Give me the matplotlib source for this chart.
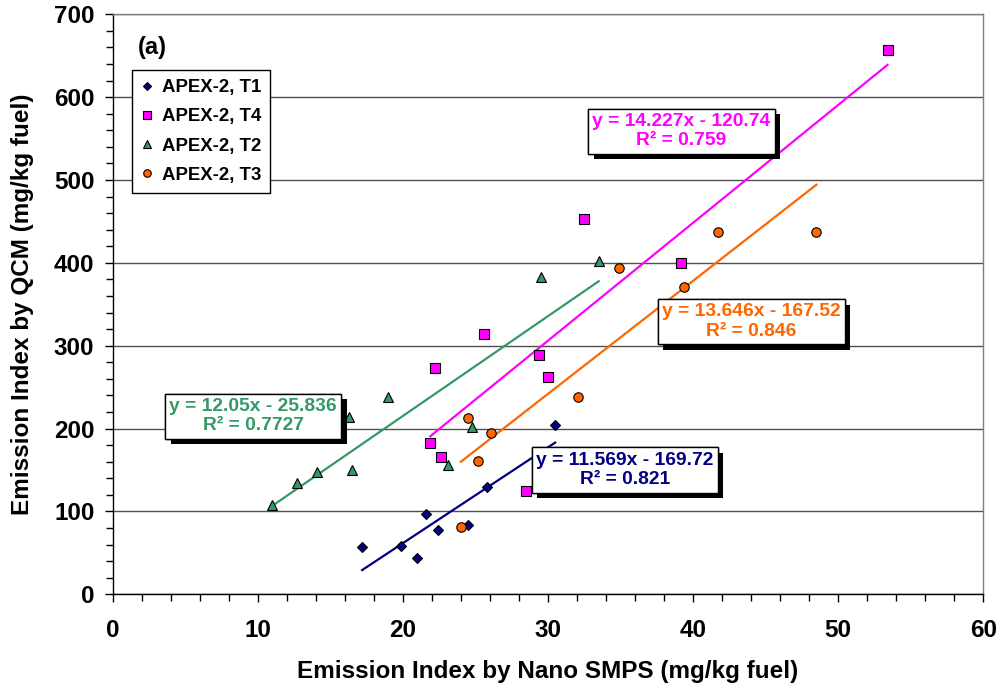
import matplotlib
matplotlib.use("Agg")
import matplotlib.pyplot as plt
import matplotlib.patheffects as pe
from matplotlib.ticker import MultipleLocator
import numpy as np

plt.rcParams['font.family'] = ['Liberation Sans', 'DejaVu Sans']
plt.rcParams['font.weight'] = 'bold'

# ---- data ----
t1_x = [17.2, 19.85, 21.0, 21.6, 22.4, 24.5, 25.8, 30.5]
t1_y = [57.4, 58.7, 43.4, 96.9, 78.0, 83.6, 129.5, 204.7]

t4_x = [21.9, 22.2, 25.6, 29.4, 30.0, 32.5, 39.2, 22.6, 28.5, 53.4]
t4_y = [182.2, 273.1, 314.1, 288.4, 261.9, 452.9, 400.2, 165.3, 124.7, 656.5]

t2_x = [10.96, 12.7, 14.1, 16.5, 16.3, 19.0, 24.8, 23.1, 29.5, 33.5]
t2_y = [107.8, 134.0, 148.0, 150.0, 214.3, 238.5, 202.3, 156.0, 382.6, 402.6]

t3_x = [24.0, 24.5, 26.1, 25.2, 32.1, 34.9, 39.4, 41.7, 48.5]
t3_y = [81.6, 213.1, 195.0, 161.2, 237.7, 393.8, 371.2, 436.9, 437.2]

series_labels = ["APEX-2, T1", "APEX-2, T4", "APEX-2, T2", "APEX-2, T3"]
slopes = [11.569, 14.227, 12.05, 13.646]
intercepts = [-169.72, -120.74, -25.836, -167.52]
r2_values = ["0.821", "0.759", "0.7727", "0.846"]
eq_texts = ["y = 11.569x - 169.72", "y = 14.227x - 120.74",
            "y = 12.05x - 25.836", "y = 13.646x - 167.52"]

x_ticks = [0, 10, 20, 30, 40, 50, 60]
y_ticks = [0, 100, 200, 300, 400, 500, 600, 700]

# ---- styles ----
colors = ['#000080', '#FF00FF', '#339966', '#FF6600']
markers = ['D', 's', '^', 'o']
msizes = [4.6, 7.2, 7.4, 6.8]
# label positions (data coords, centre of text box)
label_pos = [(35.3, 150), (39.2, 559), (9.7, 215), (44.0, 329)]

fig = plt.figure(figsize=(10, 6.89), dpi=100)
ax = fig.add_axes([0.1125, 0.1374, 0.8708, 0.8418])

ax.set_xlim(0, 60)
ax.set_ylim(0, 700)
ax.set_xticks(x_ticks)
ax.set_yticks(y_ticks)
ax.xaxis.set_minor_locator(MultipleLocator(2))
ax.yaxis.set_minor_locator(MultipleLocator(20))
ax.tick_params(axis='both', which='major', direction='out', length=6, width=1,
               labelsize=17.5, color='black')
ax.tick_params(axis='both', which='minor', direction='out', length=5, width=1,
               color='black')
for lab in ax.get_xticklabels() + ax.get_yticklabels():
    lab.set_fontweight('bold')
ax.tick_params(axis='x', pad=12)
ax.tick_params(axis='y', pad=7)

ax.yaxis.grid(True, which='major', color='#505050', linewidth=1.0)
ax.set_axisbelow(True)
ax.spines['left'].set_color('black')
ax.spines['bottom'].set_color('black')
ax.spines['top'].set_color('#808080')
ax.spines['right'].set_color('#808080')
for s in ax.spines.values():
    s.set_linewidth(1.0)

xs = [t1_x, t4_x, t2_x, t3_x]
ys = [t1_y, t4_y, t2_y, t3_y]

# trendlines
for i in range(4):
    xx = np.array([min(xs[i]), max(xs[i])])
    ax.plot(xx, slopes[i] * xx + intercepts[i], color=colors[i], lw=1.6,
            zorder=2)

handles = []
for i in range(4):
    h, = ax.plot(xs[i], ys[i], linestyle='none', marker=markers[i],
                 markersize=msizes[i], markerfacecolor=colors[i],
                 markeredgecolor='black', markeredgewidth=0.8,
                 label=series_labels[i], zorder=3)
    handles.append(h)

leg = ax.legend(handles=handles, loc='upper left',
                bbox_to_anchor=(0.0224, 0.904), borderaxespad=0,
                frameon=True, fancybox=False,
                edgecolor='black', framealpha=1, markerscale=0.8,
                handlelength=0.6, handletextpad=0.5, borderpad=0.5,
                labelspacing=0.65, prop={'weight': 'bold', 'size': 13.4})
leg.get_frame().set_linewidth(1.0)
leg.set_zorder(6)

# equation boxes
for i in range(4):
    t = ax.text(label_pos[i][0], label_pos[i][1],
                eq_texts[i] + "\nR² = " + r2_values[i],
                color=colors[i], fontsize=13.9, fontweight='bold',
                ha='center', va='center', multialignment='center',
                linespacing=1.2, zorder=7,
                bbox=dict(boxstyle='square,pad=0.22', facecolor='white',
                          edgecolor='black', linewidth=1.0))
    t.get_bbox_patch().set_path_effects([
        pe.withSimplePatchShadow(offset=(4, -4), shadow_rgbFace='black',
                                 alpha=1.0),
        pe.Normal()])

ax.text(0.029, 0.942, "(a)", transform=ax.transAxes, fontsize=17,
        fontweight='bold', ha='left', va='center')

ax.set_xlabel("Emission Index by Nano SMPS (mg/kg fuel)", fontsize=17.5,
              fontweight='bold', labelpad=13)
ax.set_ylabel("Emission Index by QCM (mg/kg fuel)", fontsize=17.5,
              fontweight='bold', labelpad=14)

fig.savefig("out.png", dpi=100)
